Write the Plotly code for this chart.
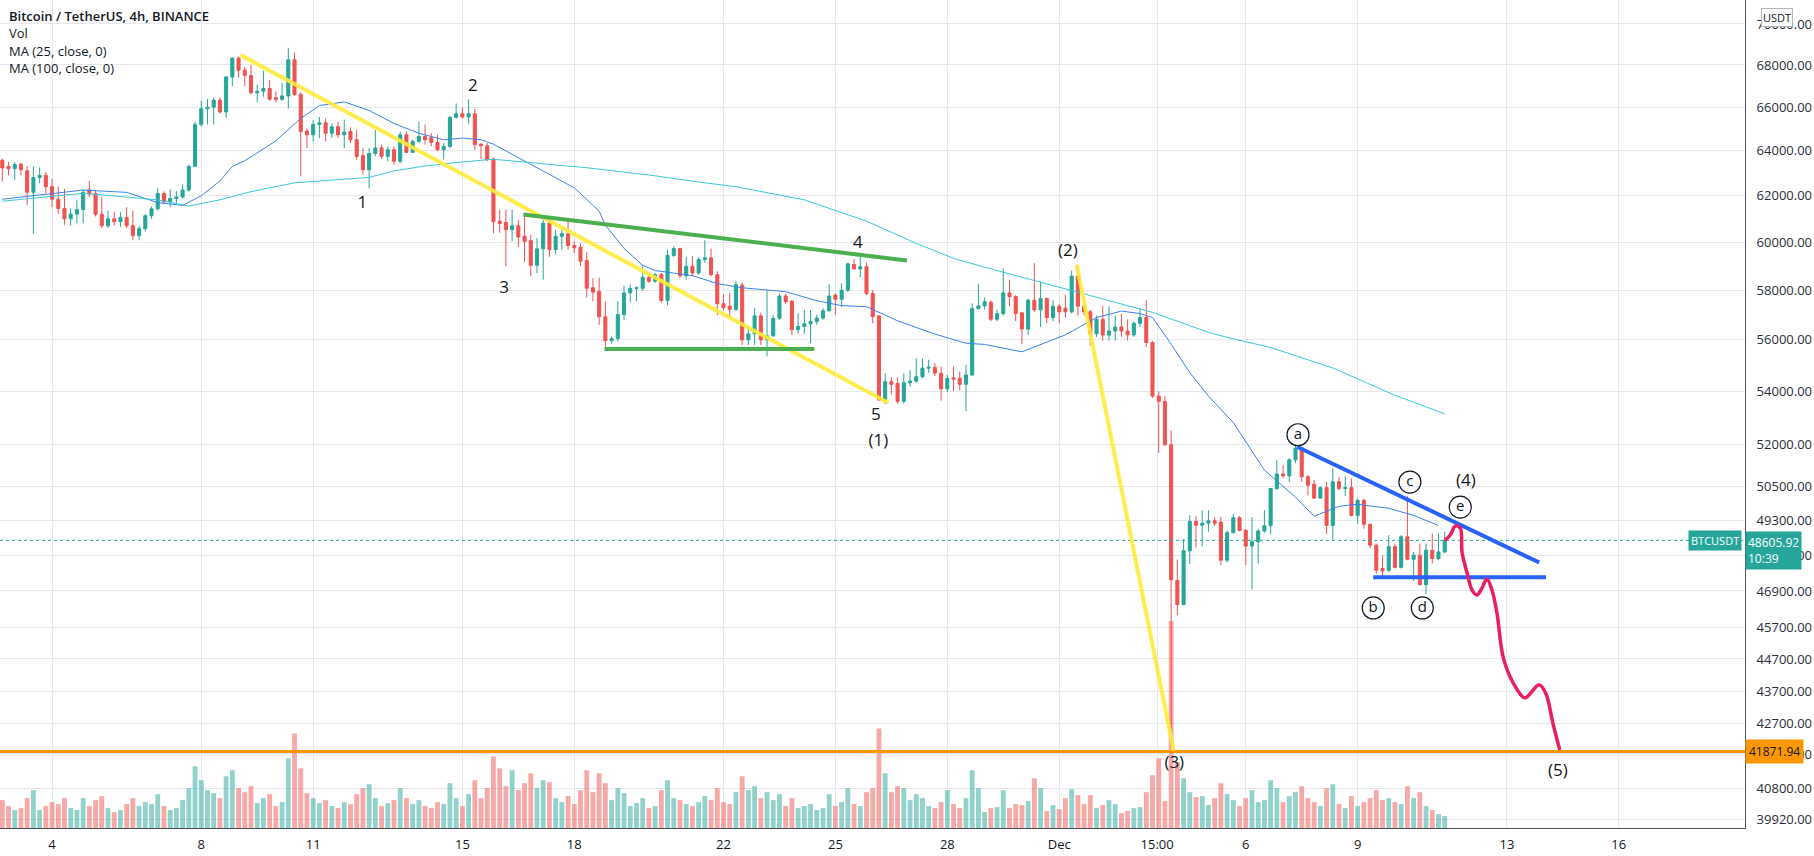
import numpy as np
import pandas as pd
import plotly.graph_objects as go

# ---- 4h BTC/USDT candles, first bar 2021-11-02 16:00 ----
first_bar = "2021-11-02 16:00"

opens = [
    63575, 63300, 63200, 63400, 63100, 62150, 62800, 62900, 62400, 61850,
    61450, 61000, 61200, 61400, 62250, 62100, 61200, 60700, 61000, 60880,
    61050, 60700, 60280, 60580, 61130, 61430, 62100, 61750, 61880, 61950,
    62250, 63300, 65200, 65930, 66000, 66330, 65780, 67430, 68330, 67750,
    67500, 66680, 66750, 66880, 66450, 66370, 66530, 68250, 66600, 64900,
    64730, 65200, 65280, 64800, 65100, 64730, 64880, 64500, 63780, 63150,
    63880, 64130, 63750, 64050, 63530, 64730, 63930, 64430, 64650, 64600,
    64380, 64050, 64200, 65530, 65700, 65550, 65700, 64300, 64230, 63630,
    60900, 60840, 60530, 60700, 60250, 60070, 59030, 59720, 60810, 59690,
    60250, 60350, 59860, 59790, 59230, 58100, 57950, 56920, 55970, 56050,
    57010, 57890, 58070, 58080, 58530, 58370, 58640, 57580, 59440, 59730,
    58600, 58990, 58710, 59270, 59340, 58640, 57450, 57350, 57220, 58210,
    56000, 56240, 56960, 56000, 56160, 56860, 57760, 57550, 56400, 56530,
    56640, 56730, 56870, 57160, 57800, 57630, 58000, 59060, 58880, 58970,
    57870, 56960, 53670, 54370, 54300, 53620, 54330, 54390, 54560, 54890,
    54920, 54700, 54100, 54520, 54500, 54270, 54630, 57250, 57360, 57510,
    56820, 57050, 57890, 57740, 57080, 56430, 57590, 57200, 57660, 56890,
    57350, 57270, 57120, 58580, 57350, 57120, 56240, 56820, 56190, 56350,
    56510, 56350, 56200, 56660, 56890, 55900, 53820, 53620, 52000, 47250,
    46450, 48250, 49260, 49130, 49200, 49280, 49240, 47930, 48870, 49390,
    48950, 48410, 48560, 48930, 49110, 50420, 50940, 50870, 51450, 51880,
    50840, 50570, 50080, 50450, 49120, 50660, 50420, 50450, 49470, 50000,
    49160, 48440, 47650, 47590, 48390, 47690, 48730, 47960, 48100, 47110,
    48270, 47990, 48210,
]
highs = [
    63650, 63500, 63500, 63450, 63300, 63300, 63250, 63050, 62750, 62400,
    62300, 61450, 61800, 62300, 62650, 62250, 61950, 61350, 61300, 61300,
    61500, 61350, 60700, 61200, 61530, 62330, 62200, 62280, 62200, 62500,
    63380, 65330, 66300, 66380, 66450, 66450, 67450, 68350, 68400, 67900,
    68000, 67050, 67730, 67280, 66750, 67130, 68830, 68600, 66700, 65030,
    65400, 65550, 65480, 65250, 65330, 65430, 65080, 64950, 64130, 64130,
    64950, 64280, 64200, 64200, 64880, 64880, 64500, 65330, 65200, 64800,
    64730, 64350, 65580, 66180, 66000, 66380, 65930, 64350, 64350, 63680,
    61400, 61400, 61400, 60950, 61160, 60320, 60180, 61020, 60950, 60530,
    60600, 60880, 60040, 59940, 59580, 58500, 58520, 57550, 56130, 57550,
    58190, 58240, 58160, 59060, 58680, 58710, 58710, 59690, 59830, 59760,
    59380, 59410, 59380, 60080, 59730, 58780, 57830, 57890, 58370, 58300,
    56530, 57270, 57090, 58000, 57000, 57860, 57860, 57600, 57060, 57200,
    57200, 57000, 57270, 58240, 57860, 58280, 59140, 59280, 59390, 59140,
    58000, 56960, 54690, 54540, 54540, 54690, 54820, 55280, 55270, 55220,
    55090, 54960, 54630, 54960, 54760, 55020, 57460, 58250, 57700, 57590,
    57200, 58890, 58430, 57800, 57120, 57660, 59120, 58350, 57700, 57590,
    57430, 57810, 58810, 59050, 57430, 57200, 56970, 57350, 57350, 56970,
    57050, 56820, 56740, 57270, 57590, 55960, 54000, 53820, 52530, 47950,
    48650, 49480, 49450, 49650, 49650, 49400, 49420, 48950, 49530, 49450,
    49000, 49410, 49010, 49660, 50440, 51450, 51270, 51510, 52000, 51900,
    50900, 50720, 50500, 50660, 51150, 50840, 50850, 50780, 50060, 50060,
    49190, 48500, 48100, 48790, 48500, 48790, 50150, 48210, 48500, 48500,
    48840, 48840, 48900,
]
lows = [
    62630, 62900, 62700, 62900, 61600, 60350, 62550, 62100, 61500, 61200,
    60750, 60700, 60800, 60800, 61950, 61100, 60600, 60600, 60700, 60650,
    60600, 60080, 60080, 60450, 61000, 61350, 61650, 61500, 61650, 61880,
    62180, 63300, 65100, 65200, 65200, 65700, 65500, 67000, 67400, 67000,
    66600, 66230, 66500, 66300, 66230, 66300, 65930, 66530, 62850, 64130,
    64430, 64580, 64430, 64580, 64580, 64130, 64350, 63600, 62930, 62330,
    63750, 63630, 63530, 63380, 63450, 63900, 63900, 64350, 64280, 64200,
    63980, 63600, 64130, 65480, 65480, 65250, 64050, 63630, 63530, 60380,
    60400, 58990, 60040, 59800, 59160, 58570, 58710, 58430, 59380, 59480,
    59690, 59690, 59550, 58990, 57700, 57550, 56600, 55600, 55850, 55950,
    56780, 57500, 57560, 57960, 58300, 58300, 57480, 57380, 59380, 58500,
    58430, 58570, 58640, 59130, 58570, 56990, 57200, 56840, 57150, 55800,
    55800, 55800, 55800, 55350, 56130, 56800, 57440, 56200, 56260, 56240,
    55870, 56600, 56800, 57140, 57000, 57330, 57930, 58850, 58540, 57800,
    56660, 53650, 53520, 53910, 53540, 53540, 54170, 54330, 54500, 54700,
    54590, 53650, 53970, 54010, 54040, 53250, 54600, 57220, 57220, 56740,
    56740, 56970, 57350, 56740, 55830, 56200, 57120, 56510, 56660, 56740,
    56660, 56890, 57050, 56970, 56970, 55780, 56120, 55970, 55970, 55970,
    56120, 55970, 56120, 56510, 55720, 53750, 51700, 51970, 42000, 46100,
    46430, 47800, 48360, 48400, 48900, 49100, 47760, 47850, 48850, 48920,
    47760, 46950, 47820, 48870, 48820, 50360, 50780, 50660, 51330, 50660,
    50170, 50050, 50050, 48830, 48620, 50360, 50150, 49430, 49180, 49010,
    48330, 47480, 47400, 47530, 47650, 47650, 47930, 47240, 47080, 46800,
    47820, 47930, 48160,
]
closes = [
    63230, 63200, 63380, 63150, 62150, 62800, 62900, 62400, 61850, 61450,
    61000, 61200, 61400, 62150, 62080, 61200, 60700, 61000, 60880, 61050,
    60700, 60280, 60580, 61130, 61430, 62100, 61730, 61880, 61950, 62250,
    63300, 65200, 65930, 66000, 66330, 65780, 67430, 68330, 67750, 67500,
    66680, 66750, 66880, 66380, 66370, 66530, 68250, 66600, 64880, 64730,
    65200, 65280, 64800, 65100, 64730, 64850, 64500, 63750, 63150, 63880,
    64130, 63750, 64050, 63530, 64730, 63930, 64430, 64650, 64500, 64380,
    64050, 64200, 65530, 65700, 65550, 65700, 64280, 64230, 63600, 60880,
    60800, 60530, 60700, 60220, 60040, 59030, 59720, 60810, 59690, 60250,
    60360, 59860, 59760, 59200, 58080, 57920, 56920, 55970, 56050, 57010,
    57890, 58070, 58100, 58530, 58370, 58640, 57580, 59440, 59730, 58600,
    58990, 58710, 59270, 59340, 58640, 57450, 57290, 57220, 58230, 56000,
    56240, 56960, 56000, 56160, 56860, 57760, 57530, 56400, 56530, 56640,
    56730, 56870, 57160, 57760, 57630, 58000, 59090, 58880, 58970, 57870,
    56930, 53670, 54370, 54270, 53620, 54330, 54390, 54560, 54890, 54930,
    54700, 54100, 54500, 54470, 54270, 54630, 57250, 57360, 57530, 56820,
    57050, 57890, 57740, 57050, 56430, 57590, 57200, 57660, 56890, 57350,
    57120, 57120, 58580, 57350, 57120, 56240, 56820, 56190, 56350, 56510,
    56350, 56200, 56660, 56890, 55900, 53820, 53620, 52000, 47270, 46450,
    48250, 49260, 49130, 49200, 49280, 49200, 47930, 48870, 49390, 48950,
    48410, 48560, 48930, 49110, 50420, 50940, 50870, 51450, 51880, 50840,
    50540, 50080, 50450, 49120, 50660, 50420, 50450, 49470, 50000, 49160,
    48440, 47590, 47570, 48390, 47690, 48730, 47960, 48100, 47110, 48270,
    47990, 48210, 48605.92,
]
volumes = [
    2800, 2200, 1800, 2000, 3000, 3800, 1800, 2200, 2600, 2400,
    3000, 2000, 1800, 3000, 2200, 2800, 3200, 2000, 1600, 1800,
    2400, 3000, 2200, 2600, 2400, 3400, 2200, 1800, 2000, 2800,
    4000, 6200, 4800, 3800, 3500, 3000, 5200, 5800, 4000, 3600,
    4200, 2500, 3000, 3400, 2200, 2600, 7000, 9500, 6000, 3500,
    3000, 2500, 2800, 2200, 2000, 2600, 2400, 3400, 4000, 4400,
    3000, 2200, 2500, 2800, 4000, 3000, 2400, 2800, 2200, 2000,
    2600, 2400, 4500, 3000, 2200, 3400, 4800, 3000, 4000, 7200,
    6000, 4200, 5800, 3800, 4500, 5500, 4000, 4800, 4600, 3000,
    2600, 3200, 2400, 3800, 5800, 3600, 5500, 4500, 2800, 4000,
    3500, 2200, 2500, 3000, 2000, 2200, 3800, 4800, 3000, 2800,
    2400, 2200, 2600, 3200, 2800, 4000, 2600, 2400, 3600, 5200,
    3800, 4200, 3000, 3600, 2800, 3400, 2200, 3000, 2000, 2200,
    2400, 1800, 2000, 3400, 2200, 2600, 4000, 2400, 2200, 3600,
    4000, 10000, 5500, 3600, 4200, 4000, 2800, 3400, 3000, 2200,
    2000, 2600, 3800, 2400, 2000, 3000, 5800, 4000, 1600, 2000,
    2100, 3800, 2000, 2400, 2300, 2700, 5000, 4000, 1700, 2300,
    1900, 3000, 3900, 3300, 2400, 3300, 2000, 2300, 2800, 2400,
    1500, 1700, 2000, 2100, 3600, 5300, 7000, 2700, 20800, 6600,
    5000, 3600, 3100, 3200, 2300, 3000, 4500, 3400, 2800, 2200,
    3000, 3800, 2600, 2800, 4800, 4000, 2600, 3200, 3600, 4200,
    3000, 2600, 2200, 4000, 4400, 2400, 2000, 3200, 2200, 2600,
    3000, 3800, 2800, 3000, 2600, 2400, 4200, 3000, 3600, 2200,
    1800, 1400, 1200,
]

# moving averages (bar index, value)
ma25_idx = [0, 13, 20, 25, 29, 32, 35, 37, 39, 44, 48, 51, 55, 59, 63, 67, 71, 74, 77, 79,
            86, 92, 96, 97, 100, 103, 105, 111, 115, 119, 126, 131, 135, 139, 144, 150,
            155, 158, 164, 171, 176, 180, 183, 185, 188, 191, 194, 198, 203, 208, 211,
            215, 218, 223, 227, 231]
ma25_val = [61850, 62250, 62150, 61700, 61580, 62000, 62650, 63300, 63550, 64450, 65480,
            66080, 66250, 65850, 65250, 64800, 64500, 64580, 64500, 64300, 63240, 62350,
            61330, 60730, 59740, 59030, 58810, 58600, 58270, 58100, 57940, 57570, 57370,
            57330, 56760, 56230, 55870, 55820, 55530, 56200, 56890, 57150, 57050, 56890,
            55830, 54720, 53820, 52820, 51080, 50110, 49440, 49790, 49860, 49720, 49470,
            49120]
ma100_idx = [0, 13, 25, 30, 35, 40, 47, 55, 59, 63, 68, 74, 79, 94, 105, 113, 118, 129,
             139, 147, 153, 158, 171, 182, 185, 194, 197, 204, 214, 224, 232]
ma100_val = [61760, 62110, 61820, 61550, 61820, 62180, 62570, 62720, 62810, 63100, 63320,
             63500, 63620, 63240, 62880, 62570, 62400, 61820, 60900, 59950, 59320, 58950,
             58050, 57280, 57100, 56300, 56100, 55700, 54900, 53850, 53150]

# hand-drawn wave markup (time, price)
yellow_a_t = ["2021-11-09 01:12", "2021-11-26 10:00"]
yellow_a_p = [68480, 53570]
yellow_b_t = ["2021-12-01 11:12", "2021-12-04 01:36"]
yellow_b_p = [59050, 41900]
green_top_t = ["2021-11-16 15:12", "2021-11-26 22:00"]
green_top_p = [61190, 59230]
green_bot_t = ["2021-11-18 19:24", "2021-11-24 10:24"]
green_bot_p = [55640, 55640]
blue_top_t = ["2021-12-07 09:00", "2021-12-13 20:48"]
blue_top_p = [51930, 47850]
blue_bot_t = ["2021-12-09 10:00", "2021-12-14 01:12"]
blue_bot_p = [47360, 47360]
path_t = ["2021-12-11 08:00", "2021-12-11 11:36", "2021-12-11 14:48", "2021-12-11 18:00",
          "2021-12-11 19:12", "2021-12-11 22:24", "2021-12-12 01:36", "2021-12-12 04:48",
          "2021-12-12 08:00", "2021-12-12 11:12", "2021-12-12 14:24", "2021-12-12 17:36",
          "2021-12-12 22:00", "2021-12-13 06:00", "2021-12-13 11:36", "2021-12-13 20:48",
          "2021-12-14 01:12", "2021-12-14 05:36", "2021-12-14 10:00"]
path_p = [48606, 48790, 49100, 49030, 48180, 47500, 46930, 46770, 47000, 47300, 46930,
          46180, 44680, 43790, 43490, 43890, 43610, 42720, 41920]

wave_text = ["1", "2", "3", "4", "5", "(1)", "(2)", "(3)", "(4)", "(5)"]
wave_t = ["2021-11-12 07:36", "2021-11-15 06:48", "2021-11-16 02:48", "2021-11-25 14:24",
          "2021-11-26 02:00", "2021-11-26 03:36", "2021-12-01 05:36", "2021-12-04 02:00",
          "2021-12-11 21:36", "2021-12-14 08:48"]
wave_p = [61640, 66950, 58050, 59920, 53070, 52110, 59590, 41510, 50650, 41280]

abc_text = ["a", "b", "c", "d", "e"]
abc_t = ["2021-12-07 09:36", "2021-12-09 10:00", "2021-12-10 09:36", "2021-12-10 17:36",
         "2021-12-11 18:00"]
abc_p = [52370, 46340, 50650, 46340, 49760]

support_level = 41871.94
last_price = 48605.92

price_ticks = [70000, 68000, 66000, 64000, 62000, 60000, 58000, 56000, 54000, 52000, 50500,
               49300, 48100, 46900, 45700, 44700, 43700, 42700, 41800, 40800, 39920]
date_ticks = ["2021-11-04", "2021-11-08", "2021-11-11", "2021-11-15", "2021-11-18",
              "2021-11-22", "2021-11-25", "2021-11-28", "2021-12-01", "2021-12-03 15:00",
              "2021-12-06", "2021-12-09", "2021-12-13", "2021-12-16"]
date_labels = ["4", "8", "11", "15", "18", "22", "25", "28", "Dec", "15:00", "6", "9", "13", "16"]

x_start, x_end = "2021-11-02 14:31", "2021-12-19 09:12"
price_lo, price_hi = 39670, 71194

times = pd.date_range(first_bar, periods=len(opens), freq="4h")
UP, DOWN = "#26a69a", "#ef5350"
FONT = "Open Sans"
INK = "#131722"

vol_colors = ["rgba(38,166,154,0.5)" if c >= o else "rgba(239,83,80,0.5)"
              for o, c in zip(opens, closes)]

fig = go.Figure()

# volume lives on the base axis so the candles draw over it
fig.add_trace(go.Bar(x=times, y=volumes, marker_color=vol_colors, marker_line_width=0,
                     width=4 * 3600 * 1000 * 0.78, yaxis="y", hoverinfo="skip"))

fig.add_trace(go.Candlestick(
    x=times, open=opens, high=highs, low=lows, close=closes, yaxis="y2",
    increasing=dict(line=dict(color=UP, width=1), fillcolor=UP),
    decreasing=dict(line=dict(color=DOWN, width=1), fillcolor=DOWN),
    whiskerwidth=0, hoverinfo="skip"))

fig.add_trace(go.Scatter(x=times[ma25_idx], y=ma25_val, mode="lines", yaxis="y2",
                         line=dict(color="#3b82f0", width=1)))
fig.add_trace(go.Scatter(x=times[ma100_idx], y=ma100_val, mode="lines", yaxis="y2",
                         line=dict(color="#3cc8d8", width=1)))

# horizontal levels
fig.add_trace(go.Scatter(x=[x_start, x_end], y=[last_price, last_price], mode="lines",
                         yaxis="y2", line=dict(color=UP, width=1, dash="dot")))
fig.add_trace(go.Scatter(x=[x_start, x_end], y=[support_level, support_level], mode="lines",
                         yaxis="y2", line=dict(color="#ff9800", width=3)))

for tt, pp, col in [(yellow_a_t, yellow_a_p, "rgba(255,235,59,0.9)"),
                    (yellow_b_t, yellow_b_p, "rgba(255,235,59,0.9)"),
                    (green_top_t, green_top_p, "#4caf50"),
                    (green_bot_t, green_bot_p, "#4caf50"),
                    (blue_top_t, blue_top_p, "#2962ff"),
                    (blue_bot_t, blue_bot_p, "#2962ff")]:
    fig.add_trace(go.Scatter(x=tt, y=pp, mode="lines", yaxis="y2",
                             line=dict(color=col, width=4)))

fig.add_trace(go.Scatter(x=path_t, y=path_p, mode="lines", yaxis="y2",
                         line=dict(color="#e91e63", width=3.5, shape="spline", smoothing=1.0)))

fig.add_trace(go.Scatter(x=wave_t, y=wave_p, mode="text", text=wave_text, yaxis="y2",
                         textfont=dict(family=FONT, size=17, color=INK)))
fig.add_trace(go.Scatter(x=abc_t, y=abc_p, mode="markers+text", text=abc_text, yaxis="y2",
                         textposition="middle center",
                         marker=dict(symbol="circle-open", size=22, color=INK,
                                     line=dict(width=1.2, color=INK)),
                         textfont=dict(family=FONT, size=15, color=INK)))

GRID = "#e6e8ee"
fig.update_layout(
    width=1814, height=856,
    margin=dict(l=0, r=69, t=0, b=28),
    paper_bgcolor="white", plot_bgcolor="white",
    showlegend=False,
    font=dict(family=FONT, color=INK, size=13),
    xaxis=dict(type="date", range=[x_start, x_end], rangeslider=dict(visible=False),
               tickvals=date_ticks, ticktext=date_labels, showgrid=True, gridcolor=GRID,
               showline=True, linecolor="#50535e", linewidth=1, ticks="",
               ticklabelstandoff=4, tickfont=dict(size=13, color=INK), zeroline=False),
    yaxis=dict(range=[0, 4 * max(volumes)], visible=False, showgrid=False, zeroline=False),
    yaxis2=dict(type="log", overlaying="y", side="right", anchor="x",
                range=[np.log10(price_lo), np.log10(price_hi)],
                tickvals=price_ticks, ticktext=[f"{v:.2f}" for v in price_ticks],
                showgrid=True, gridcolor=GRID, showline=True, linecolor="#50535e",
                linewidth=1, ticks="", ticklabelstandoff=8,
                tickfont=dict(size=13, color="#2a2e39"), zeroline=False),
)

header = [("Bitcoin / TetherUS, 4h, BINANCE", 600, -16), ("Vol", 400, -33),
          ("MA (25, close, 0)", 400, -51), ("MA (100, close, 0)", 400, -68)]
for txt, wt, dy in header:
    fig.add_annotation(text=txt, xref="paper", yref="paper", x=0, y=1, xanchor="left",
                       yanchor="middle", xshift=7, yshift=dy, showarrow=False,
                       font=dict(family=FONT, size=13, color=INK, weight=wt))

fig.add_annotation(text="BTCUSDT", xref="paper", yref="y2", x=1, y=np.log10(last_price),
                   xanchor="right", yanchor="middle", xshift=-3, showarrow=False,
                   bgcolor=UP, borderpad=2, font=dict(family=FONT, size=11, color="white"))
fig.add_annotation(text="48605.92<br>10:39", xref="paper", yref="y2", x=1,
                   y=np.log10(last_price), xanchor="left", yanchor="top", yshift=9,
                   align="left", showarrow=False, bgcolor=UP, borderpad=2,
                   font=dict(family=FONT, size=12, color="white"))
fig.add_annotation(text="41871.94", xref="paper", yref="y2", x=1, y=np.log10(support_level),
                   xanchor="left", yanchor="middle", showarrow=False, bgcolor="#ff9800",
                   borderpad=3, font=dict(family=FONT, size=12, color=INK))
fig.add_annotation(text="USDT", xref="paper", yref="paper", x=1, y=1, xanchor="left",
                   yanchor="top", xshift=16, yshift=-8, showarrow=False, bgcolor="white",
                   bordercolor="#b2b5be", borderwidth=1, borderpad=1,
                   font=dict(family=FONT, size=11, color=INK))

# the page's default body margin would shift the whole chart by 8px
fig.write_html("out.html", config={"displayModeBar": False},
               post_script="document.body.style.margin='0';document.body.style.overflow='hidden';")
